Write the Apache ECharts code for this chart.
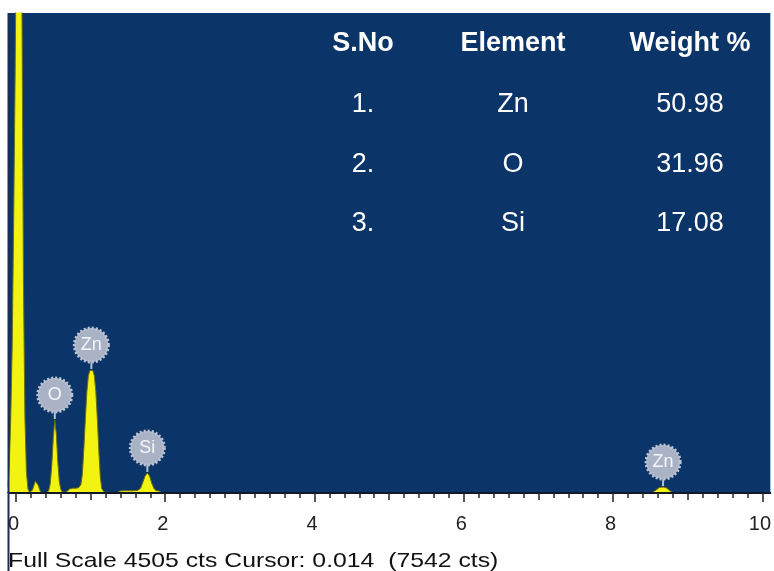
<!DOCTYPE html>
<html><head><meta charset="utf-8">
<script src="https://cdn.jsdelivr.net/npm/echarts@6/dist/echarts.min.js"></script>
<style>html,body{margin:0;padding:0;background:#fff}#c{width:774px;height:571px}</style>
</head><body><div id="c"></div>
<script>
// Spectrum (energy keV, counts)
const energy = [-0.107,-0.09,-0.07,-0.05,-0.03,-0.01,0.01,0.03,0.045,0.06,0.08,0.10,0.12,0.14,0.16,0.18,
  0.20,0.22,0.24,0.26,0.28,0.30,0.32,0.34,0.38,
  0.42,0.44,0.46,0.48,0.50,0.52,0.54,0.56,0.58,0.60,0.62,0.66,
  0.69,0.72,0.76,0.80,0.84,0.87,0.89,0.91,0.93,0.95,0.97,0.99,1.01,1.03,1.05,1.07,1.09,1.11,1.13,1.15,1.18,1.24,
  1.36,1.39,1.45,1.55,1.63,1.67,1.70,1.73,1.76,1.79,1.82,1.85,1.88,1.92,1.95,2.1,
  3.0,5.0,7.0,8.45,8.53,8.58,8.62,8.67,8.71,8.75,8.79,8.9,10.1067];
const counts = [60,250,700,1400,2600,4000,5800,7200,7542,6900,4600,2000,700,200,40,8,
  6,25,70,110,110,70,25,6,4,
  6,25,90,260,520,685,560,300,110,35,10,6,
  18,38,44,45,50,80,180,420,700,950,1100,1150,1154,1150,1100,950,700,400,150,40,10,4,
  4,18,22,21,24,45,100,160,188,160,90,40,22,18,4,2,
  2,2,2,2,6,30,52,56,50,28,6,2,2];
// Peak labels
const peakNames = ['O','Zn','Si','Zn'];
const peakEnergy = [0.52,1.01,1.76,8.67];
const peakCounts = [685,1154,188,56];
// Table
const tableHeader = ['S.No','Element','Weight %'];
const tableSNo = ['1.','2.','3.'];
const tableElement = ['Zn','O','Si'];
const tableWeight = ['50.98','31.96','17.08'];
// Axis
const majorTicks = [0,2,4,6,8,10];
const midTicks = [1,3,5,7,9];
const minorTicks = [];
for (let k = 0; k <= 50; k++) minorTicks.push(+(k*0.2).toFixed(1));
const fullScale = 4505;
const statusText = 'Full Scale 4505 cts Cursor: 0.014  (7542 cts)';

const XMIN = -0.1067, XMAX = 10.1067;
const FONT = '"Liberation Sans", Arial, sans-serif';

const chart = echarts.init(document.getElementById('c'), null, {renderer:'canvas'});

const spectrum = energy.map((e,i)=>[e, counts[i]]);
const labelData = peakEnergy.map((e,i)=>[e, peakCounts[i], i]);

const graphics = [];
const colX = [363, 513, 690];
const rowY = [44, 105, 165, 224];
tableHeader.forEach((t,j)=>graphics.push({type:'text', x:colX[j], y:rowY[0], z:50,
  style:{text:t, fill:'#ffffff', font:'bold 27px '+FONT, textAlign:'center', textVerticalAlign:'middle'}}));
const cols = [tableSNo, tableElement, tableWeight];
cols.forEach((col,j)=>col.forEach((t,r)=>graphics.push({type:'text', x:colX[j], y:rowY[r+1], z:50,
  style:{text:t, fill:'#ffffff', font:'27px '+FONT, textAlign:'center', textVerticalAlign:'middle'}})));
graphics.push({type:'rect', shape:{x:0,y:493,width:8,height:78}, style:{fill:'#ffffff'}, z:60});
graphics.push({type:'line', shape:{x1:8.5,y1:13,x2:8.5,y2:571}, style:{stroke:'#1b2c55', lineWidth:2}, z:61});
graphics.push({type:'text', x:8, y:561, z:50, scaleX:1.18,
  style:{text:statusText, fill:'#111111', font:'21px '+FONT, textAlign:'left', textVerticalAlign:'middle'}});

function tickAxis(vals, len, showLine, showLabel){
  return {type:'value', min:XMIN, max:XMAX, position:'bottom', z:5,
    axisLine:{show:showLine, onZero:false, lineStyle:{color:'#10182a', width:2}},
    axisTick:{show:true, length:len, customValues:vals, lineStyle:{color:'#222222', width:1.5}},
    axisLabel:{show:showLabel, customValues:majorTicks, fontSize:20, fontFamily:FONT, color:'#222222',
      margin:21, padding:[0,5,0,0], alignMinLabel:'center', alignMaxLabel:'center', hideOverlap:false},
    splitLine:{show:false}};
}

chart.setOption({
  animation:false,
  backgroundColor:'#ffffff',
  grid:{left:8, right:0, top:13, bottom:78, show:true, backgroundColor:'#0b3468', borderWidth:0},
  xAxis:[tickAxis(minorTicks,5,true,true), tickAxis(midTicks,7,false,false), tickAxis(majorTicks,9,false,false)],
  yAxis:{type:'value', min:0, max:fullScale, show:false, splitLine:{show:false}},
  graphic:graphics,
  series:[
    {type:'line', data:spectrum, xAxisIndex:0, showSymbol:false, symbol:'none', z:2,
      lineStyle:{color:'#6e6e10', width:1}, areaStyle:{color:'#f3f312', opacity:1}},
    {type:'custom', data:labelData, xAxisIndex:0, clip:false, z:10,
      renderItem:function(params, api){
        const p = api.coord([api.value(0), api.value(1)]);
        const i = api.value(2);
        const r = 17, off = 25;
        return {type:'group', children:[
          {type:'line', shape:{x1:p[0], y1:p[1]-1, x2:p[0], y2:p[1]-off+r}, style:{stroke:'#b9c1d1', lineWidth:2}},
          {type:'circle', shape:{cx:p[0], cy:p[1]-off, r:r}, style:{fill:'#aab3c6', stroke:'#bcc4d4', lineWidth:3, lineDash:[2,2]}},
          {type:'text', x:p[0], y:p[1]-off, style:{text:peakNames[i], fill:'#f3f5f9', font:'18px '+FONT, textAlign:'center', textVerticalAlign:'middle'}}
        ]};
      }}
  ]
});
</script></body></html>
